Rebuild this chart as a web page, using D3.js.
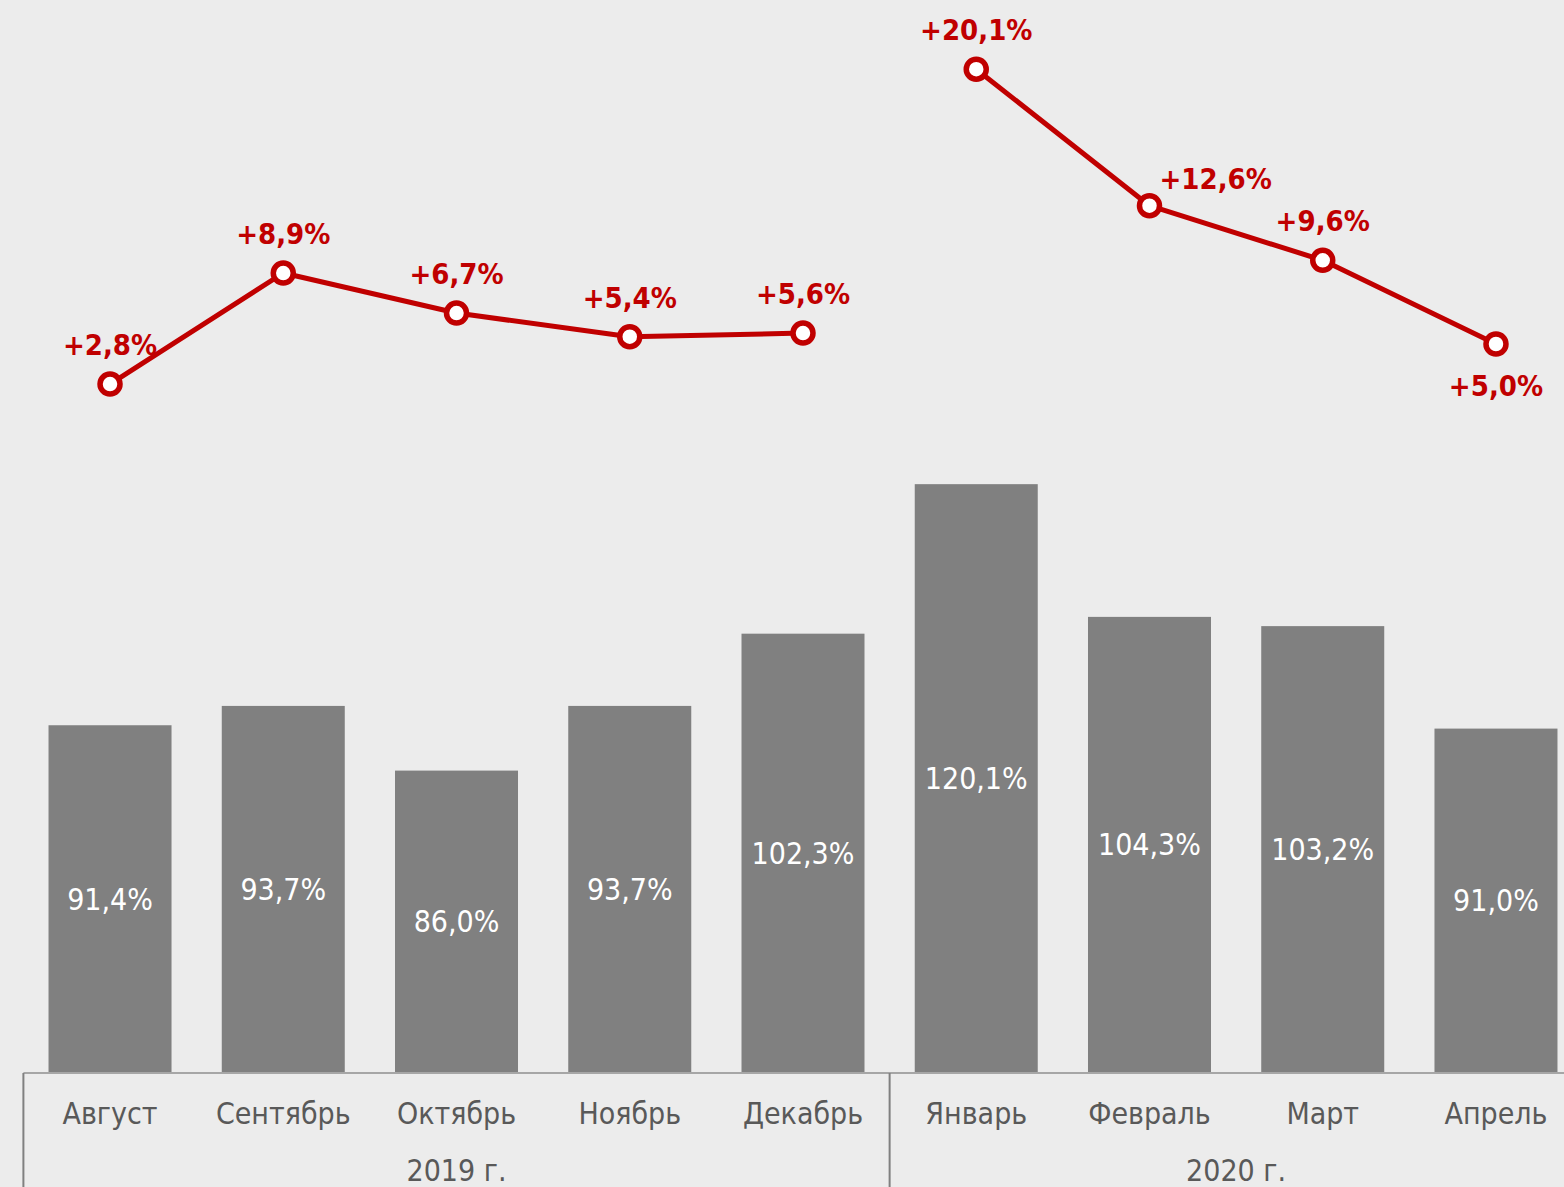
<!DOCTYPE html>
<html><head><meta charset="utf-8">
<script src="https://cdn.jsdelivr.net/npm/d3@7"></script>
<style>
html,body{margin:0;padding:0;background:#ececec;overflow:hidden;}
svg{display:block;}
</style></head>
<body>
<svg id="chart" width="1564" height="1187"></svg>
<script>
const months = ["Август","Сентябрь","Октябрь","Ноябрь","Декабрь","Январь","Февраль","Март","Апрель"];
const years = ["2019 г.","2019 г.","2019 г.","2019 г.","2019 г.","2020 г.","2020 г.","2020 г.","2020 г."];
const yearGroups = ["2019 г.","2020 г."];
const barValues = [91.4, 93.7, 86.0, 93.7, 102.3, 120.1, 104.3, 103.2, 91.0];
const barLabels = ["91,4%","93,7%","86,0%","93,7%","102,3%","120,1%","104,3%","103,2%","91,0%"];
const lineValues = [2.8, 8.9, 6.7, 5.4, 5.6, 20.1, 12.6, 9.6, 5.0];
const lineLabels = ["+2,8%","+8,9%","+6,7%","+5,4%","+5,6%","+20,1%","+12,6%","+9,6%","+5,0%"];

const svg = d3.select("#chart");
const font = "'DejaVu Sans Condensed','DejaVu Sans',sans-serif";
const red = "#c00000";

const x = d3.scaleBand().domain(months).range([23.4, 1582.6]).paddingInner(0.29).paddingOuter(0.145);
const yBar = d3.scaleLinear().domain([50, 130]).range([1073, 401]);
const yLine = d3.scaleLinear().domain([0, 20]).range([435, 71]);
const step = x.step();
const cx = m => x(m) + x.bandwidth()/2;

// bars
svg.append("g").selectAll("rect").data(months).join("rect")
  .attr("x", m => x(m)).attr("width", x.bandwidth())
  .attr("y", (m,i) => yBar(barValues[i]))
  .attr("height", (m,i) => yBar(50) - yBar(barValues[i]))
  .attr("fill", "#808080");

svg.append("g").selectAll("text").data(months).join("text")
  .attr("x", m => cx(m))
  .attr("y", (m,i) => (yBar(barValues[i]) + yBar(50))/2)
  .attr("dy", "0.35em")
  .attr("text-anchor", "middle")
  .attr("font-family", font).attr("font-size", 30)
  .attr("fill", "#ffffff")
  .text((m,i) => barLabels[i]);

// axis
const axisY = yBar(50);
svg.append("line").attr("x1", x.range()[0]).attr("x2", x.range()[1])
  .attr("y1", axisY).attr("y2", axisY).attr("stroke", "#a6a6a6").attr("stroke-width", 2);

const groupBounds = yearGroups.map(g => {
  const ms = months.filter((m,i) => years[i] === g);
  const left = x(ms[0]) - step*x.paddingInner()/2;
  const right = x(ms[ms.length-1]) + x.bandwidth() + step*x.paddingInner()/2;
  return {g, left, right};
});
svg.append("g").selectAll("line").data(groupBounds).join("line")
  .attr("x1", d => d.left).attr("x2", d => d.left)
  .attr("y1", axisY).attr("y2", 1187)
  .attr("stroke", "#808080").attr("stroke-width", 2);

svg.append("g").selectAll("text").data(months).join("text")
  .attr("x", m => cx(m)).attr("y", 1124)
  .attr("text-anchor", "middle")
  .attr("font-family", font).attr("font-size", 30)
  .attr("fill", "#595959").text(m => m);

svg.append("g").selectAll("text").data(groupBounds).join("text")
  .attr("x", d => (d.left + d.right)/2).attr("y", 1181)
  .attr("text-anchor", "middle")
  .attr("font-family", font).attr("font-size", 30)
  .attr("fill", "#595959").text(d => d.g);

// line (two segments, by year)
const line = d3.line().x(d => cx(d.m)).y(d => yLine(d.v));
yearGroups.forEach(g => {
  const pts = months.map((m,i) => ({m, v: lineValues[i], y: years[i]})).filter(d => d.y === g);
  svg.append("path").datum(pts).attr("d", line)
    .attr("fill", "none").attr("stroke", red).attr("stroke-width", 5).attr("stroke-linejoin", "round");
});
svg.append("g").selectAll("circle").data(months).join("circle")
  .attr("cx", m => cx(m)).attr("cy", (m,i) => yLine(lineValues[i]))
  .attr("r", 10).attr("fill", "#ffffff").attr("stroke", red).attr("stroke-width", 5.5);

// line labels
svg.append("g").selectAll("text").data(months).join("text")
  .each(function(m,i){
    const px = cx(m), py = yLine(lineValues[i]);
    const t = d3.select(this);
    if (i === months.length - 1) {
      t.attr("x", px).attr("y", py + 42).attr("text-anchor", "middle");
    } else if (m === "Февраль") {
      t.attr("x", px + 10).attr("y", py - 27).attr("text-anchor", "start");
    } else {
      t.attr("x", px).attr("y", py - 39).attr("text-anchor", "middle");
    }
  })
  .attr("dy", "0.35em")
  .attr("font-family", font).attr("font-size", 29).attr("font-weight", "bold")
  .attr("fill", red)
  .text((m,i) => lineLabels[i]);
</script>
</body></html>
